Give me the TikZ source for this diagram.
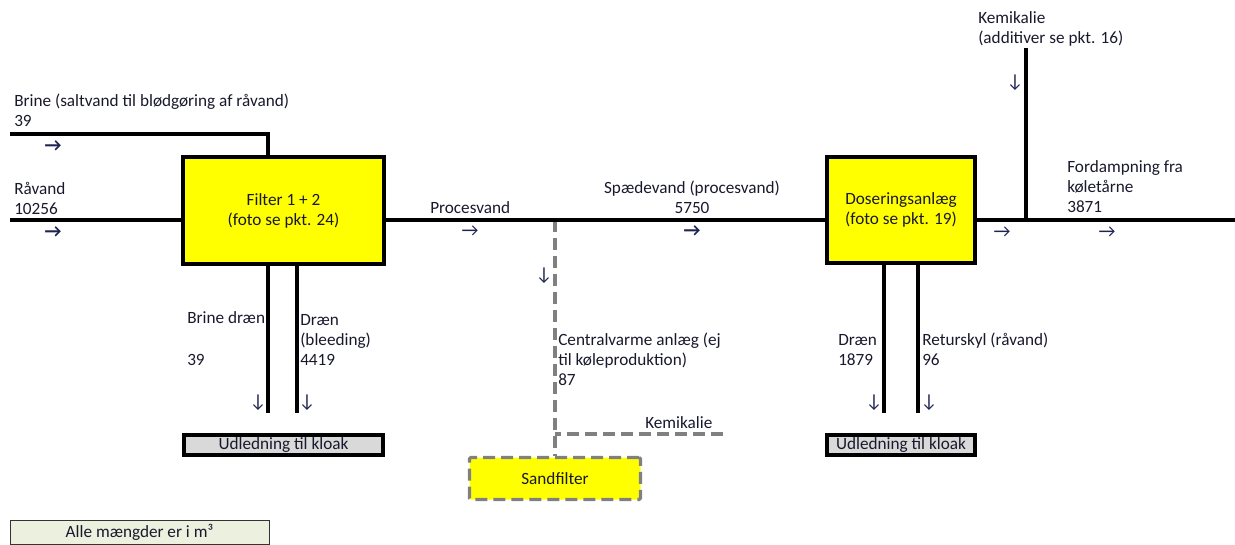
\documentclass[tikz,border=0pt]{standalone}
\usepackage{fontspec}
\setmainfont{Carlito}
\usepackage{tikz}
\usetikzlibrary{positioning}
\definecolor{txtcol}{RGB}{25,25,45}
\definecolor{arrcol}{RGB}{30,35,80}
\definecolor{unityellow}{RGB}{255,255,0}
\definecolor{sewergray}{RGB}{217,217,217}
\definecolor{notegreen}{RGB}{235,241,222}
\definecolor{dashgray}{RGB}{128,128,128}

\begin{document}
\begin{tikzpicture}[x=0.75pt, y=-0.75pt,
        every node/.style={font=\fontsize{12.9}{15}\selectfont, text=txtcol},
        pipe/.style={line width=2.5pt},
        dashpipe/.style={draw=dashgray, line width=2.4pt, dash pattern=on 9pt off 4.5pt},
        unit/.style={draw, fill=unityellow, line width=3pt, align=center, inner sep=0pt},
        sewer/.style={draw, fill=sewergray, line width=3pt, inner sep=0pt},
        lbl/.style={anchor=base west, align=left, inner sep=0pt},
        flowarr/.style={font=\fontsize{14}{14}\selectfont, text=arrcol, inner sep=0pt},
        boldarr/.style={flowarr, font=\bfseries\fontsize{14}{14}\selectfont}]
    \useasboundingbox (0,0) rectangle (1235,545);

    \node[unit, minimum width=150.75pt, minimum height=80.25pt] (filter) at (283.5,210.5) {Filter 1 + 2\\(foto se pkt. 24)};
    \node[unit, minimum width=111pt, minimum height=79.5pt] (dosing) at (901,210) {Doseringsanlæg\\(foto se pkt. 19)};
    \node[sewer, minimum width=149.25pt, minimum height=15pt] (sewerA) at (283.5,445) {Udledning til kloak};
    \node[sewer, minimum width=111pt, minimum height=15pt] (sewerB) at (901,445) {Udledning til kloak};
    \node[draw=dashgray, fill=unityellow, line width=2.4pt, dash pattern=on 9pt off 4.5pt, rounded corners=1pt,
          minimum width=128.25pt, minimum height=31.5pt, inner sep=0pt] (sandfilter) at (555,478.5) {Sandfilter};
    \node[draw=black!80, fill=notegreen, line width=0.75pt, minimum width=194.25pt, minimum height=18pt, inner sep=0pt] (note) at (139.5,532) {Alle mængder er i m³};

    \coordinate (brinein) at (10,134);
    \coordinate (brinebend) at (268,134);
    \coordinate (raavandin) at (10,220);
    \coordinate (tee) at (555,220);
    \coordinate (kemin) at (723,434);
    \coordinate (kemtop) at (1026,48);
    \coordinate (outlet) at (1235,220);
    \coordinate (drainA) at (268,413);
    \coordinate (drainB) at (297,413);
    \coordinate (drainC) at (884,413);
    \coordinate (drainD) at (918,413);

    \draw[dashpipe] (tee) -- (tee |- sandfilter.north);
    \draw[dashpipe] (kemin) -- (kemin -| tee);
    \draw[pipe] (brinein) -- (brinebend) -- (brinebend |- filter.north);
    \draw[pipe] (raavandin) -- (raavandin -| filter.west);
    \draw[pipe] (filter.east |- tee) -- (dosing.west |- tee);
    \draw[pipe] (dosing.east |- outlet) -- (outlet);
    \draw[pipe] (kemtop) -- (kemtop |- outlet);
    \draw[pipe] (drainA |- filter.south) -- (drainA);
    \draw[pipe] (drainB |- filter.south) -- (drainB);
    \draw[pipe] (drainC |- dosing.south) -- (drainC);
    \draw[pipe] (drainD |- dosing.south) -- (drainD);

    \node[lbl] (brinelbl) at (14,127) {Brine (saltvand til blødgøring af råvand)\\39};
    \node[lbl] (raavandlbl) at (14,215) {Råvand\\10256};
    \node[lbl] (proceslbl) at (430,214) {Procesvand};
    \node[anchor=base, align=center, inner sep=0pt] (spaedelbl) at (692,214) {Spædevand (procesvand)\\5750};
    \node[lbl] (brinedrlbl) at (187,365) {Brine dræn\\[16pt]39};
    \node[lbl] (bleedlbl) at (300,365) {Dræn\\(bleeding)\\4419};
    \node[lbl] (centrallbl) at (558,385) {Centralvarme anlæg (ej\\til køleproduktion)\\87};
    \node[lbl] (kemlblA) at (645,428) {Kemikalie};
    \node[lbl] (kemlblB) at (978,44) {Kemikalie\\(additiver se pkt. 16)};
    \node[lbl] (fordamplbl) at (1067,213) {Fordampning fra\\køletårne\\3871};
    \node[lbl] (draenlbl) at (838,365) {Dræn\\1879};
    \node[lbl] (returlbl) at (922,365) {Returskyl (råvand)\\96};

    \foreach \x/\y [count=\i] in {53/146, 53/232, 692/231}
        \node[boldarr] (bold\i) at (\x,\y) {→};
    \foreach \x/\y [count=\i] in {470/231, 1002/232, 1107/232}
        \node[flowarr] (right\i) at (\x,\y) {→};
    \foreach \x/\y [count=\i] in {544/276, 1015/83, 258/403, 307/403, 874/403, 929/403}
        \node[flowarr] (down\i) at (\x,\y) {↓};
\end{tikzpicture}
\end{document}
